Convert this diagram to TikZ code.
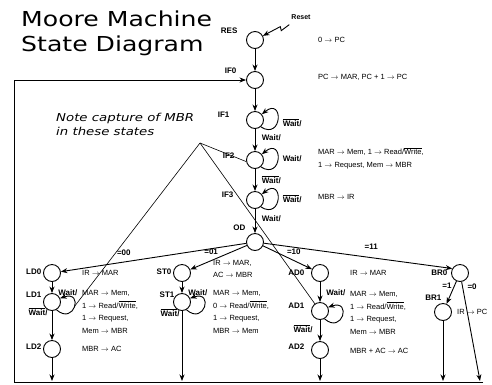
\documentclass[tikz,border=0pt]{standalone}
\usepackage{fontspec}
\setmainfont{Liberation Sans}
\newfontfamily\comicfont[FakeStretch=1.22]{DejaVu Sans}
\usetikzlibrary{arrows.meta}

\newcommand{\ra}{$\rightarrow$}
\newcommand{\nWait}{$\overline{\mbox{Wait}}$}
\newcommand{\nWrite}{$\overline{\mbox{Write}}$}

\begin{document}
\begin{tikzpicture}[x=1pt,y=-1pt,node distance=40pt]
    % Define styles
    \tikzstyle{state} = [circle, draw, line width=0.9pt, minimum size=17pt, inner sep=0pt]
    \tikzstyle{arrow} = [line width=0.9pt,->,>={Stealth[length=6.5pt,width=5pt,inset=2pt]}]
    \tikzstyle{tag} = [font=\bfseries\fontsize{8}{9}\selectfont, inner sep=0pt]
    \tikzstyle{cond} = [font=\bfseries\fontsize{8}{9}\selectfont, inner sep=1.5pt]
    \tikzstyle{action} = [font=\fontsize{7.5}{12.8}\selectfont, anchor=west, align=left, inner sep=0pt]
    \tikzstyle{note} = [semithick]

    \useasboundingbox (0,0) rectangle (492,384);

    % Title and note
    \node[anchor=north west, align=left, inner sep=0pt, font=\comicfont\fontsize{20.6}{25}\selectfont] (title) at (21,11) {Moore Machine\\State Diagram};
    \node[anchor=west, align=left, inner sep=0pt, font=\comicfont\itshape\fontsize{10.9}{14}\selectfont] (capnote) at (56,124) {Note capture of MBR\\in these states};

    % States
    \node[state, label={[tag,xshift=-8.5pt,yshift=9pt]left:RES}] (res) at (255,40) {};
    \node[state, below of=res, label={[tag,xshift=-9.5pt,yshift=9pt]left:IF0}] (if0) {};
    \node[state, below of=if0, label={[tag,xshift=-16.5pt,yshift=5pt]left:IF1}] (if1) {};
    \node[state, below of=if1, label={[tag,xshift=-11.5pt,yshift=4pt]left:IF2}] (if2) {};
    \node[state, below of=if2, label={[tag,xshift=-12.5pt,yshift=5pt]left:IF3}] (if3) {};
    \node[state, below of=if3, yshift=-2pt, label={[tag,xshift=-0.5pt,yshift=14pt]left:OD}] (od) {};

    \node[state, label={[tag,xshift=-1.5pt,yshift=1pt]left:LD0}] (ld0) at (52,273) {};
    \node[state, below of=ld0, yshift=11pt, label={[tag,xshift=-1.5pt,yshift=7pt]left:LD1}] (ld1) {};
    \node[state, below of=ld1, yshift=-7pt, label={[tag,xshift=-1.5pt,yshift=2pt]left:LD2}] (ld2) {};
    \node[state, label={[tag,xshift=-1.5pt,yshift=1pt]left:ST0}] (st0) at (182,273) {};
    \node[state, below of=st0, yshift=11pt, label={[tag,xshift=1.5pt,yshift=7pt]left:ST1}] (st1) {};
    \node[state, label={[tag,xshift=-6.5pt]left:AD0}] (ad0) at (320,273) {};
    \node[state, below of=ad0, yshift=2pt, label={[tag,xshift=-6.5pt,yshift=5pt]left:AD1}] (ad1) {};
    \node[state, below of=ad1, yshift=1pt, label={[tag,xshift=-6.5pt,yshift=3pt]left:AD2}] (ad2) {};
    \node[state, label={[tag,xshift=-3.5pt]left:BR0}] (br0) at (460,273) {};
    \node[state, below of=br0, xshift=-17pt, yshift=1pt, label={[tag,xshift=7.5pt,yshift=14pt]left:BR1}] (br1) {};

    \node[tag, font=\bfseries\fontsize{7}{8}\selectfont] (reset) at (301,17) {Reset};

    % Register transfers
    \node[action] (ares) at (318,40) {0 \ra{} PC};
    \node[action] (aif0) at (318,77) {PC \ra{} MAR, PC + 1 \ra{} PC};
    \node[action] (aif2) at (318,158) {MAR \ra{} Mem, 1 \ra{} Read/\nWrite,\\1 \ra{} Request, Mem \ra{} MBR};
    \node[action] (aif3) at (318,197) {MBR \ra{} IR};
    \node[action] (ald0) at (82,273) {IR \ra{} MAR};
    \node[action] (ald1) at (82,312) {MAR \ra{} Mem,\\1 \ra{} Read/\nWrite,\\1 \ra{} Request,\\Mem \ra{} MBR};
    \node[action] (ald2) at (82,349) {MBR \ra{} AC};
    \node[action] (ast0) at (213,269) {IR \ra{} MAR,\\AC \ra{} MBR};
    \node[action] (ast1) at (213,312) {MAR \ra{} Mem,\\0 \ra{} Read/\nWrite,\\1 \ra{} Request,\\MBR \ra{} Mem};
    \node[action] (aad0) at (350,273) {IR \ra{} MAR};
    \node[action] (aad1) at (350,313) {MAR \ra{} Mem,\\1 \ra{} Read/\nWrite,\\1 \ra{} Request,\\Mem \ra{} MBR};
    \node[action] (aad2) at (350,351) {MBR + AC \ra{} AC};
    \node[action] (abr1) at (457,312) {IR \ra{} PC};

    % Fetch
    \draw[arrow] ([shift={(-2,5)}]reset.south west) -- ++(-8,6) -- ++(-1,-4) -- (res);
    \draw[arrow] (res) -- (if0);
    \draw[arrow] (if0) -- (if1);
    \draw[arrow] (if1.-50) .. controls +(22,14) and +(22,-18) .. (if1.40) node[cond, right=3pt, pos=.5, yshift=-4pt] {\nWait/};
    \draw[arrow] (if1) -- node[cond, right=5pt, pos=.4] {Wait/} (if2);
    \draw[arrow] (if2.-50) .. controls +(22,14) and +(22,-18) .. (if2.40) node[cond, right=3pt, pos=.5] {Wait/};
    \draw[arrow] (if2) -- node[cond, right=5pt] {\nWait/} (if3);
    \draw[arrow] (if3.-50) .. controls +(22,14) and +(22,-18) .. (if3.40) node[cond, right=3pt, pos=.5] {\nWait/};
    \draw[arrow] (if3) -- node[cond, right=5pt, pos=.4] {Wait/} (od);

    % Decode
    \draw[arrow] (od) -- node[cond, above=4.5pt, pos=.66] {=00} (ld0);
    \draw[arrow] (od) -- node[cond, above=4.5pt, pos=.63] {=01} (st0);
    \draw[arrow] (od) -- node[cond, above=4.5pt, pos=.63] {=10} (ad0);
    \draw[arrow] (od) -- node[cond, above=6.5pt, pos=.57] {=11} (br0.150);

    % Execute
    \coordinate (ld2out) at (52,381);
    \coordinate (st1out) at (182,381);
    \coordinate (ad2out) at (320,381);
    \coordinate (br1out) at (443,381);
    \coordinate (br0out) at (480,381);
    \coordinate (busR) at (483,382.5);
    \coordinate (busL) at (14,382.5);

    \draw[arrow] (ld0) -- node[cond, right=4.5pt, pos=.95] {Wait/} (ld1);
    \draw[arrow] (ld1.-60) .. controls +(18,16) and +(24,-8) .. (ld1.25) coordinate[pos=.5] (ld1loop);
    \draw[arrow] (ld1) -- node[cond, left=2.5pt, pos=.02] {\nWait/} (ld2);
    \draw[arrow] (ld2) -- (ld2out);

    \draw[arrow] (st0) -- node[cond, right=4.5pt, pos=.95] {Wait/} (st1);
    \draw[arrow] (st1.-60) .. controls +(18,16) and +(24,-8) .. (st1.25);
    \draw[arrow] (st1) -- node[cond, left=0.5pt, pos=.02] {\nWait/} (st1out);

    \draw[arrow] (ad0) -- node[cond, right=4.5pt, pos=.55] {Wait/} (ad1);
    \draw[arrow] (ad1.-60) .. controls +(18,16) and +(24,-8) .. (ad1.25);
    \draw[arrow] (ad1) -- node[cond, left=5.5pt, pos=.39] {\nWait/} (ad2);
    \draw[arrow] (ad2) -- (ad2out);

    \draw[arrow] (br0) -- node[cond, left=1pt, pos=.2] {=1} (br1);
    \draw[arrow] (br0) -- node[cond, right=3pt, pos=.05] {=0} (br0out);
    \draw[arrow] (br1) -- (br1out);

    % Back to fetch
    \draw[arrow] (busR) -- (busL) |- (if0);

    % MBR capture
    \coordinate (mbr) at (200,143);
    \draw[note] (mbr) -- (if2.190);
    \draw[note] (mbr) -- (ad1);
    \draw[note] (mbr) -- (ld1loop);
\end{tikzpicture}
\end{document}
